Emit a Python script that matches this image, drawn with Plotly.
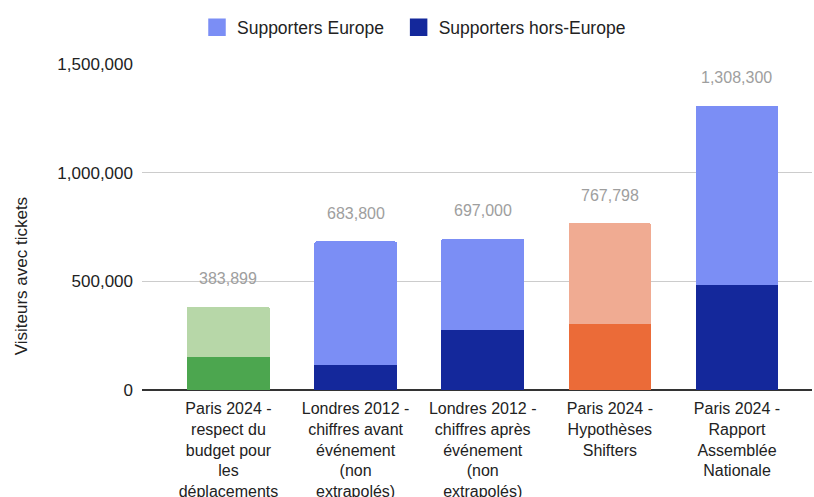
import plotly.graph_objects as go

categories = [
    "Paris 2024 -<br>respect du<br>budget pour<br>les<br>déplacements",
    "Londres 2012 -<br>chiffres avant<br>événement<br>(non<br>extrapolés)",
    "Londres 2012 -<br>chiffres après<br>événement<br>(non<br>extrapolés)",
    "Paris 2024 -<br>Hypothèses<br>Shifters",
    "Paris 2024 -<br>Rapport<br>Assemblée<br>Nationale",
]
totals = [383899, 683800, 697000, 767798, 1308300]
hors_europe = [150000, 114000, 275000, 302000, 482000]
europe = [t - h for t, h in zip(totals, hors_europe)]

hors_colors = ["#4ca64f", "#14289b", "#14289b", "#eb6b38", "#14289b"]
europe_colors = ["#b7d7a8", "#7b8ef5", "#7b8ef5", "#f0ab92", "#7b8ef5"]
legend_names = ["Supporters Europe\u00a0\u00a0", "Supporters hors-Europe"]
legend_colors = ["#7b8ef5", "#14289b"]

font = "Liberation Sans, Arial, sans-serif"

fig = go.Figure()
fig.add_trace(go.Bar(x=categories, y=hors_europe, marker=dict(color=hors_colors, line=dict(width=0)),
                     showlegend=False, name=legend_names[1]))
fig.add_trace(go.Bar(x=categories, y=europe, marker=dict(color=europe_colors, line=dict(width=0)),
                     showlegend=False, name=legend_names[0]))
for n, c in zip(legend_names, legend_colors):
    fig.add_trace(go.Scatter(x=[None], y=[None], mode="markers", name=n,
                             marker=dict(symbol="square", size=16, color=c,
                                         line=dict(width=1.5, color=c))))

for c, t in zip(categories, totals):
    fig.add_annotation(x=c, y=t, text=f"{t:,}", showarrow=False, yanchor="middle", yshift=28,
                       font=dict(family=font, size=16, color="#9e9e9e"))

fig.add_annotation(xref="paper", yref="paper", x=-0.18, y=0.35, xanchor="center", yanchor="middle",
                   text="Visiteurs avec tickets", textangle=-90, showarrow=False,
                   font=dict(family=font, size=17, color="#222222"))

fig.update_layout(
    width=814, height=497,
    margin=dict(l=142, r=2, t=64, b=107, autoexpand=False),
    barmode="stack", bargap=0.35, barcornerradius=2,
    plot_bgcolor="white", paper_bgcolor="white",
    font=dict(family=font, size=17, color="#222222"),
    legend=dict(orientation="h", xref="container", yref="container", x=0.5086, y=0.945,
                xanchor="center", yanchor="middle", font=dict(size=17.5, color="#222222"),
                itemwidth=30, traceorder="normal"),
    xaxis=dict(type="category", range=[-0.68, 4.59], showgrid=False, ticks="", automargin=False,
               tickfont=dict(size=16, color="#222222"), showline=False, ticklabelstandoff=7),
    yaxis=dict(range=[0, 1500000], tickvals=[0, 500000, 1000000, 1500000], automargin=False,
               tickformat=",d", gridcolor="#cccccc", gridwidth=1,
               zeroline=True, zerolinecolor="#333333", zerolinewidth=1.5,
               showline=False, ticks="", ticklabelstandoff=8,
               tickfont=dict(size=17, color="#222222")),
)

fig.write_html("out.html")
